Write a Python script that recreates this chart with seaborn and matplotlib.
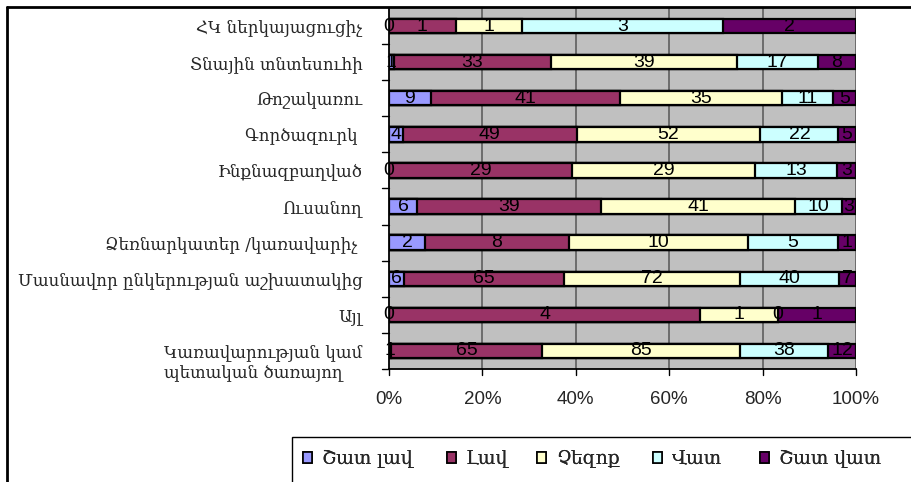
import numpy as np
import pandas as pd
import matplotlib
matplotlib.use("Agg")
import matplotlib.pyplot as plt
import matplotlib.transforms as mtransforms
from matplotlib.patches import Patch, Rectangle
from matplotlib.lines import Line2D
import seaborn as sns

# Occupation groups (top to bottom)
categories = [
    "ՀԿ ներկայացուցիչ",
    "Տնային տնտեսուհի",
    "Թոշակառու",
    "Գործազուրկ ",
    "Ինքնազբաղված",
    "Ուսանող",
    "Ձեռնարկատեր /կառավարիչ ",
    "Մասնավոր ընկերության աշխատակից",
    "Այլ",
    "Կառավարության կամ\nպետական ծառայող",
]

# Answer counts for each rating
very_good = [0, 1, 9, 4, 0, 6, 2, 6, 0, 1]
good = [1, 33, 41, 49, 29, 39, 8, 65, 4, 65]
neutral = [1, 39, 35, 52, 29, 41, 10, 72, 1, 85]
bad = [3, 17, 11, 22, 13, 10, 5, 40, 0, 38]
very_bad = [2, 8, 5, 5, 3, 3, 1, 7, 1, 12]

series_names = ["Շատ լավ", "Լավ", "Չեզոք", "Վատ", "Շատ վատ"]
colors = ["#9999FF", "#993366", "#FFFFCC", "#CCFFFF", "#660066"]
x_ticklabels = ["0%", "20%", "40%", "60%", "80%", "100%"]

counts = np.array([very_good, good, neutral, bad, very_bad], dtype=float)
shares = counts / counts.sum(axis=0) * 100
cum = np.cumsum(shares, axis=0)
starts = cum - shares

sns.set_style("white")
plt.rcParams["font.family"] = ["Liberation Sans", "DejaVu Sans"]

W, H = 911, 482
fig = plt.figure(figsize=(W / 100, H / 100), dpi=100)
ax = fig.add_axes([389 / W, 1 - 369 / H, (856 - 389) / W, (369 - 8) / H])
ax.set_facecolor("#C0C0C0")

# Stacked bars: draw cumulative totals from the last series to the first
for i in range(len(series_names) - 1, -1, -1):
    df = pd.DataFrame({"category": categories, "value": cum[i]})
    sns.barplot(data=df, x="value", y="category", orient="h", ax=ax,
                color=colors[i], saturation=1, width=0.4,
                edgecolor="black", linewidth=1.6, zorder=3)

# Value labels centred on each segment
for i in range(len(series_names)):
    for j in range(len(categories)):
        xc = starts[i, j] + shares[i, j] / 2
        ax.text(xc, j, f"{int(counts[i, j])}", ha="center", va="center",
                fontsize=14, color="black", zorder=5)

ax.set_xlim(0, 100)
ax.set_ylim(len(categories) - 0.5, -0.5)
ax.set_xticks([0, 20, 40, 60, 80, 100])
ax.set_xticklabels(x_ticklabels, fontsize=13.5)
ax.set_yticks(np.arange(len(categories)))
ax.set_yticklabels(categories, family=["DejaVu Serif"], fontsize=12,
                   multialignment="left")
ax.tick_params(axis="y", length=0, pad=19)
ax.tick_params(axis="x", length=0, pad=16)
ax.set_xlabel("")
ax.set_ylabel("")

# The two-line category name sits a little lower
last = ax.get_yticklabels()[-1]
last.set_linespacing(1.3)
last.set_transform(last.get_transform() +
                   mtransforms.ScaledTranslation(0, -6 / 72, fig.dpi_scale_trans))

# Vertical gridlines
for v in [20, 40, 60, 80, 100]:
    ax.axvline(v, color="#666666", linewidth=1.3, zorder=1)

# Small ticks between categories and at percentage steps
for b in np.arange(0.5, len(categories) + 0.5, 1.0):
    ax.plot([-1.4, 0], [b, b], color="black", lw=1, clip_on=False, zorder=6)
for v in [0, 20, 40, 60, 80, 100]:
    ax.plot([v, v], [len(categories) - 0.5, len(categories) - 0.5 + 0.18],
            color="black", lw=1, clip_on=False, zorder=6)

for s in ["top", "right"]:
    ax.spines[s].set_visible(False)
ax.spines["left"].set_color("black")
ax.spines["left"].set_linewidth(1.3)
ax.spines["bottom"].set_color("black")
ax.spines["bottom"].set_linewidth(1.3)

# Outer chart frame
fig.add_artist(Line2D([7 / W, 7 / W], [0, 1 - 7 / H], color="black", lw=2,
                      transform=fig.transFigure))
fig.add_artist(Line2D([7 / W, 1], [1 - 7 / H, 1 - 7 / H], color="black", lw=2,
                      transform=fig.transFigure))

# Legend box with one entry per rating
fig.add_artist(Rectangle((292 / W, -0.05), 1, (482 - 437) / H + 0.05,
                         transform=fig.transFigure, facecolor="white",
                         edgecolor="black", lw=1))
entry_x = [303, 447, 537, 653, 760]
for name, c, x in zip(series_names, colors, entry_x):
    leg = fig.legend([Patch(facecolor=c, edgecolor="black", linewidth=1.2)],
                     [name], frameon=False, loc="center left",
                     bbox_to_anchor=(x / W, 1 - 459 / H),
                     prop={"family": "DejaVu Serif", "size": 13.5},
                     handlelength=0.5, handleheight=0.5, handletextpad=0.5,
                     borderaxespad=0, borderpad=0)
    fig.add_artist(leg)

fig.savefig("out.png", dpi=100)
